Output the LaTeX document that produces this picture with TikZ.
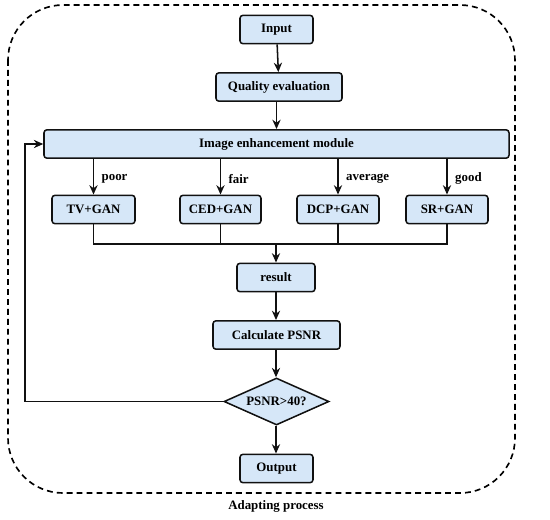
\documentclass[tikz,border=0pt]{standalone}
\usepackage{fontspec}
\setmainfont{Liberation Serif}
\usetikzlibrary{positioning,calc,shapes.geometric,arrows.meta}
\definecolor{flowFill}{HTML}{D6E7F8}
\definecolor{flowLine}{HTML}{111111}

\tikzset{
  procbox/.style={draw=flowLine, fill=flowFill, line width=1.3pt, rounded corners=2.5pt,
    minimum height=0.85cm, inner sep=2pt, font=\rmfamily\bfseries\fontsize{11}{13}\selectfont},
  decbox/.style={draw=flowLine, fill=flowFill, line width=1.3pt, diamond, aspect=2.2,
    minimum width=3.15cm, minimum height=1.41cm, inner sep=1pt,
    font=\rmfamily\bfseries\fontsize{11}{13}\selectfont},
  flow/.style={line width=1.3pt, draw=flowLine, -{Stealth[length=8pt,width=7pt]}},
  link/.style={line width=1.3pt, draw=flowLine},
  caselab/.style={anchor=west, font=\rmfamily\bfseries\fontsize{11}{13}\selectfont},
}

\begin{document}
\begin{tikzpicture}[x=0.03cm, y=-0.03cm]

\useasboundingbox (0,0) rectangle (550,519);

% --- OUTER FRAME ---
\draw[line width=1.4pt, dash pattern=on 5pt off 3.5pt, rounded corners=1.65cm]
  (8,5) rectangle (515,493);
\node[font=\rmfamily\bfseries\fontsize{11}{13}\selectfont] (cap) at (276,506) {Adapting process};

% --- MAIN CHAIN ---
\node[procbox, minimum width=2.19cm] (inp) at (276.5,29.5) {Input};
\node[procbox, minimum width=3.78cm] (qual) at (279,87) {Quality evaluation};
\node[procbox, minimum width=13.95cm] (iem) at (276.5,144) {Image enhancement module};

% --- FOUR BRANCHES ---
\node[procbox, minimum width=2.49cm] (tv)  at (93.5,209.5)  {TV+GAN};
\node[procbox, minimum width=2.43cm] (ced) at (220.5,209.5) {CED+GAN};
\node[procbox, minimum width=2.46cm] (dcp) at (338,209.5)   {DCP+GAN};
\node[procbox, minimum width=2.46cm] (sr)  at (447,209.5)   {SR+GAN};

\foreach \br/\lab in {tv/poor, ced/fair, dcp/average, sr/good} {
  \draw[flow] (iem.south -| \br.north) -- (\br.north)
    node[caselab, pos=0.55, xshift=3pt] {\lab};
}

% --- MERGE ---
\coordinate (mrg) at (276,244);
\draw[link] (tv.south) -- (tv.south |- mrg) -- (sr.south |- mrg) -- (sr.south);
\draw[link] (ced.south) -- (ced.south |- mrg);
\draw[link] (dcp.south) -- (dcp.south |- mrg);

\node[procbox, minimum width=2.34cm] (res)  at (276,277.5) {result};
\node[procbox, minimum width=3.81cm] (psnr) at (276.5,335) {Calculate PSNR};
\node[decbox] (dec) at (276.5,401.5) {PSNR>40?};
\node[procbox, minimum width=2.19cm] (outp) at (276.5,468.5) {Output};

% --- ARROWS ---
\draw[flow] (inp) -- (qual);
\draw[flow] (qual.south -| inp) -- (iem.north -| inp);
\draw[flow] (mrg) -- (res);
\draw[flow] (res) -- (psnr.north -| res);
\draw[flow] (psnr.south -| res) -- (dec.north -| res);
\draw[flow] (dec.south -| res) -- (outp.north -| res);

% --- FEEDBACK LOOP ---
\coordinate (loopc) at (25,144);
\draw[flow] (dec.west) -| (loopc) -- (iem.west);

\end{tikzpicture}
\end{document}
